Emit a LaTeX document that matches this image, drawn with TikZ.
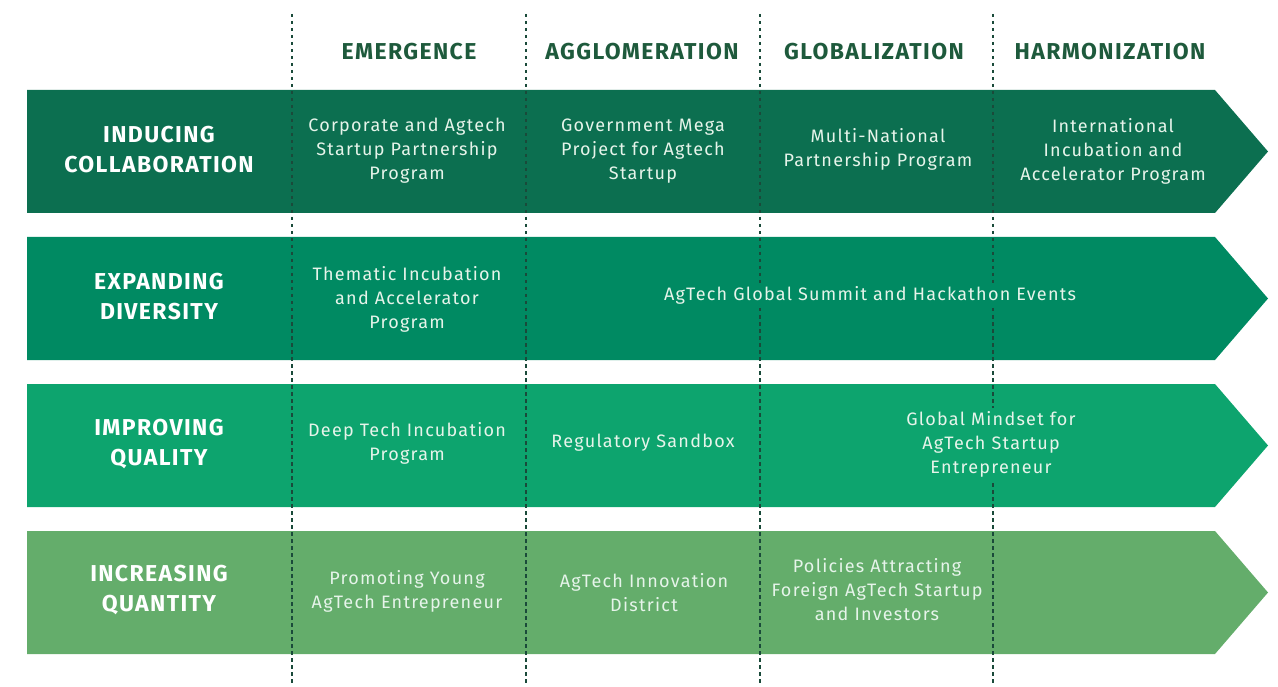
\documentclass[tikz,border=0pt]{standalone}
\usepackage{fontspec}
\setmainfont{Fira Sans}
\newfontfamily\itemfont[LetterSpace=7]{Fira Sans}
\newfontfamily\headfont[LetterSpace=6]{Fira Sans}
\newfontfamily\labfont[LetterSpace=6]{Fira Sans}
\definecolor{bandA}{HTML}{0C6F50}
\definecolor{bandB}{HTML}{008A62}
\definecolor{bandC}{HTML}{0DA46E}
\definecolor{bandD}{HTML}{64AD6B}
\definecolor{headgreen}{HTML}{1E5A3C}
\definecolor{guidecol}{HTML}{1A4A3A}
\definecolor{itemtext}{HTML}{E6F4EA}
\begin{document}
\begin{tikzpicture}[x=1pt,y=-1pt,
  phase/.style={font=\headfont\fontsize{23}{26}\selectfont\bfseries, text=headgreen, inner sep=0pt},
  rowlab/.style={font=\labfont\fontsize{23}{30}\selectfont\bfseries, text=white, align=center, inner sep=0pt},
  item/.style={font=\itemfont\fontsize{18}{24}\selectfont, text=itemtext, align=center, inner sep=0pt},
  spanitem/.style={item, inner sep=3pt},
  guide/.style={draw=guidecol, line width=1.6pt, dash pattern=on 3.5pt off 3.5pt}]
\useasboundingbox (0,0) rectangle (1278,687);
% bands
\fill[bandA] (27,90) -- (1215,90) -- (1268,151.5) -- (1215,213) -- (27,213) -- cycle;
\fill[bandB] (27,237) -- (1215,237) -- (1268,298.5) -- (1215,360) -- (27,360) -- cycle;
\fill[bandC] (27,384) -- (1215,384) -- (1268,445.5) -- (1215,507) -- (27,507) -- cycle;
\fill[bandD] (27,531) -- (1215,531) -- (1268,592.5) -- (1215,654) -- (27,654) -- cycle;
% guides
\foreach \i/\x in {1/292,2/526,3/760,4/993}{
  \coordinate (gt\i) at (\x,14);
  \coordinate (gb\i) at (\x,685);
  \draw[guide] (gt\i) -- (gb\i);
}
% headers
\node[phase] (h1) at (409,52) {EMERGENCE};
\node[phase] (h2) at (642,52) {AGGLOMERATION};
\node[phase] (h3) at (874,52) {GLOBALIZATION};
\node[phase] (h4) at (1110,52) {HARMONIZATION};
% row labels
\node[rowlab] (r1) at (159,150) {INDUCING\\COLLABORATION};
\node[rowlab] (r2) at (159,297) {EXPANDING\\DIVERSITY};
\node[rowlab] (r3) at (159,444) {IMPROVING\\QUALITY};
\node[rowlab] (r4) at (159,590) {INCREASING\\QUANTITY};
% row 1
\node[item] (a1) at (407,151) {Corporate and Agtech\\Startup Partnership\\Program};
\node[item] (a2) at (643,151) {Government Mega\\Project for Agtech\\Startup};
\node[item] (a3) at (878,149) {Multi-National\\Partnership Program};
\node[item] (a4) at (1113,151) {International\\Incubation and\\Accelerator Program};
% row 2
\node[item] (b1) at (407,299) {Thematic Incubation\\and Accelerator\\Program};
\node[spanitem, fill=bandB] (b2) at (870,295) {AgTech Global Summit and Hackathon Events};
% row 3
\node[item] (c1) at (407,443) {Deep Tech Incubation\\Program};
\node[item] (c2) at (643,443) {Regulatory Sandbox};
\node[spanitem, fill=bandC] (c3) at (991,444) {Global Mindset for\\AgTech Startup\\Entrepreneur};
% row 4
\node[item] (d1) at (407,591) {Promoting Young\\AgTech Entrepreneur};
\node[item] (d2) at (644,593) {AgTech Innovation\\District};
\node[item] (d3) at (877,590) {Policies Attracting\\Foreign AgTech Startup\\and Investors};
\end{tikzpicture}
\end{document}
